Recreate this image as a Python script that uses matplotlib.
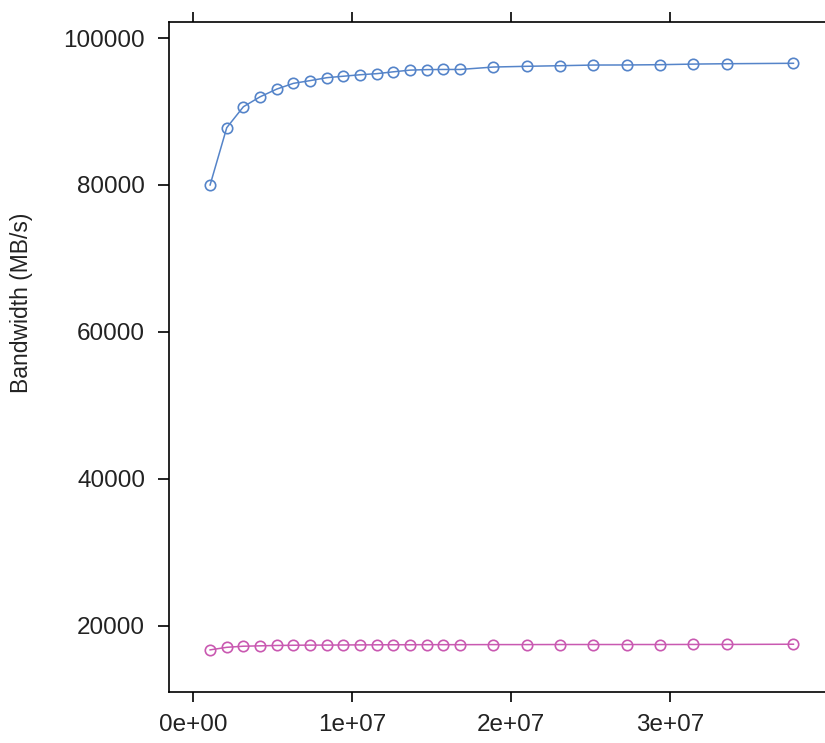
import matplotlib
matplotlib.use("Agg")
import matplotlib.pyplot as plt
from matplotlib.ticker import FuncFormatter

plt.rcParams['font.family'] = ['Liberation Sans', 'DejaVu Sans']

# message sizes: multiples of 2^20 bytes
steps = [1, 2, 3, 4, 5, 6, 7, 8, 9, 10, 11, 12, 13, 14, 15, 16,
         18, 20, 22, 24, 26, 28, 30, 32, 36]
sizes = [s * 1048576 for s in steps]

bw_high = [80000, 87800, 90650, 92000, 93050, 93830, 94200, 94600, 94800,
           95000, 95150, 95400, 95630, 95700, 95720, 95720,
           96050, 96150, 96230, 96320, 96330, 96370, 96450, 96500, 96560]
bw_low = [16750, 17100, 17250, 17300, 17350, 17380, 17400, 17400, 17420,
          17430, 17440, 17450, 17450, 17460, 17460, 17460,
          17470, 17470, 17480, 17480, 17480, 17480, 17490, 17490, 17520]

BLUE = '#5584c9'
PINK = '#c959b1'

W, H = 825, 743
fig = plt.figure(figsize=(W / 100, H / 100), dpi=100)
ax = fig.add_axes([168.7 / W, 1 - 691.5 / H, (834 - 168.7) / W, (691.5 - 22) / H])

ax.plot(sizes, bw_high, color=BLUE, lw=1.1, marker='o', ms=7.5,
        mfc='none', mec=BLUE, mew=1.2)
ax.plot(sizes, bw_low, color=PINK, lw=1.1, marker='o', ms=7.5,
        mfc='none', mec=PINK, mew=1.2)

ax.set_xlim(-1.555e6, 4.03e7)
ax.set_ylim(11088, 102177)

ax.set_xticks([0, 1e7, 2e7, 3e7])
ax.set_yticks([20000, 40000, 60000, 80000, 100000])
ax.xaxis.set_major_formatter(FuncFormatter(
    lambda v, p: '%de+%02d' % (round(v / 1e7), 7 if v else 0)))
ax.yaxis.set_major_formatter(FuncFormatter(lambda v, p: '%d' % v))

ax.tick_params(axis='x', which='both', direction='out', length=7.5, width=1.2,
               top=True, labeltop=False, bottom=True, pad=9,
               labelsize=17.5, colors='black', labelcolor='#222222')
ax.tick_params(axis='y', which='both', direction='out', length=8, width=1.2,
               left=True, right=True, pad=9,
               labelsize=17.5, colors='black', labelcolor='#222222')

for sp in ax.spines.values():
    sp.set_linewidth(1.2)

# lattice centres the y label on the whole page, not on the panel
fig.text(22 / W, 1 - 303 / H, 'Bandwidth (MB/s)', rotation=90,
         ha='center', va='center', fontsize=16.5, color='#222222')

fig.savefig('out.png', dpi=100)
